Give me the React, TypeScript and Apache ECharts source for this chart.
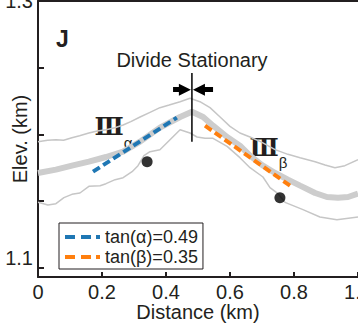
import React, { useEffect, useRef } from "react";
import * as echarts from "echarts";

// Elevation profiles: [distance (km), elevation (km)]
const upperProfile: [number, number][] = [
  [0, 1.1945], [0.03, 1.1955], [0.056, 1.196], [0.08, 1.1955], [0.106, 1.1975], [0.13, 1.199],
  [0.159, 1.201], [0.185, 1.2025], [0.2125, 1.2035], [0.24, 1.205], [0.266, 1.207], [0.29, 1.2095],
  [0.319, 1.213], [0.35, 1.2165], [0.381, 1.22], [0.41, 1.222], [0.444, 1.2245], [0.475, 1.227],
  [0.506, 1.2245], [0.5375, 1.22], [0.569, 1.213], [0.6, 1.206], [0.631, 1.201], [0.6625, 1.198],
  [0.7, 1.194], [0.741, 1.1885], [0.781, 1.185], [0.819, 1.1825], [0.866, 1.1795], [0.897, 1.177],
  [0.928, 1.175], [0.959, 1.1765], [1.0, 1.181],
];
const meanProfile: [number, number][] = [
  [0, 1.171], [0.056, 1.1735], [0.106, 1.1765], [0.159, 1.1795], [0.2125, 1.183], [0.266, 1.187],
  [0.319, 1.1945], [0.381, 1.205], [0.444, 1.213], [0.481, 1.217], [0.516, 1.213], [0.547, 1.2065],
  [0.591, 1.198], [0.631, 1.1915], [0.6625, 1.184], [0.7, 1.177], [0.741, 1.171], [0.781, 1.166],
  [0.819, 1.1615], [0.866, 1.156], [0.903, 1.153], [0.9375, 1.1525], [0.969, 1.153], [1.0, 1.1555],
];
const lowerProfile: [number, number][] = [
  [0, 1.149], [0.031, 1.147], [0.056, 1.148], [0.081, 1.1525], [0.106, 1.155], [0.131, 1.156],
  [0.159, 1.161], [0.194, 1.1615], [0.2125, 1.163], [0.241, 1.166], [0.266, 1.1675], [0.294, 1.172],
  [0.3125, 1.1765], [0.331, 1.184], [0.35, 1.187], [0.381, 1.1885], [0.4125, 1.196], [0.444, 1.2035],
  [0.475, 1.201], [0.497, 1.198], [0.522, 1.197], [0.547, 1.197], [0.569, 1.194], [0.591, 1.191],
  [0.631, 1.1825], [0.6625, 1.175], [0.703, 1.168], [0.725, 1.16], [0.75, 1.1555], [0.772, 1.149],
  [0.828, 1.1435], [0.881, 1.138], [0.934, 1.136], [1.0, 1.138],
];
const alphaFit: [number, number][] = [[0.172, 1.172], [0.434, 1.2125]];
const betaFit: [number, number][] = [[0.522, 1.2065], [0.7875, 1.1615]];
const knickPoints: [number, number][] = [[0.341, 1.1795], [0.756, 1.1525]];
const divideLine: [number, number][] = [[0.481, 1.246], [0.481, 1.1945]];
const arrowY = 1.2335;
const leftArrow: [number, number][] = [[0.422, arrowY], [0.459, arrowY]];
const rightArrow: [number, number][] = [[0.547, arrowY], [0.503, arrowY]];

const legendNames = ["tan(α)=0.49", "tan(β)=0.35"];
const xTicks = [0, 0.2, 0.4, 0.6, 0.8, 1.0];
const yTicks = [1.1, 1.15, 1.2, 1.25, 1.3];
const yLabels = [1.1, 1.3];

const FONT = "'Liberation Sans', Arial, sans-serif";
const INK = "#231f20";
const DASH_ICON = "path://M0,0h10v4h-10z M16,0h10v4h-10z M31,0h4v4h-4z";

export default function App() {
  const ref = useRef<HTMLDivElement>(null);
  useEffect(() => {
    if (!ref.current) return;
    const chart = echarts.init(ref.current, undefined, { renderer: "svg" });
    const axisLine = { show: true, lineStyle: { color: INK, width: 2 } };
    const option: any = {
      animation: false,
      backgroundColor: "#ffffff",
      grid: {
        left: 38, top: 1, width: 320, height: 276, show: false,
        containLabel: false, outerBoundsMode: "none",
      },
      xAxis: [
        {
          type: "value",
          min: xTicks[0],
          max: xTicks[xTicks.length - 1],
          interval: 0.2,
          axisLine,
          axisTick: { show: true, inside: true, length: 5, lineStyle: { color: INK, width: 2 } },
          axisLabel: {
            fontSize: 20, color: INK, fontFamily: FONT, margin: 5, showMaxLabel: true,
            formatter: (v: number) => (v === 0 ? "0" : v.toFixed(1)),
          },
          splitLine: { show: false },
          name: "Distance (km)",
          nameLocation: "middle",
          nameGap: 25,
          nameMoveOverlap: false,
          nameTextStyle: { fontSize: 20, color: INK, fontFamily: FONT },
        },
        {
          type: "value", position: "top", min: 0, max: 1,
          axisLine, axisTick: { show: false }, axisLabel: { show: false }, splitLine: { show: false },
        },
      ],
      yAxis: {
        type: "value",
        min: 1.093,
        max: 1.3,
        axisLine,
        axisTick: { show: true, inside: true, length: 6, customValues: yTicks, lineStyle: { color: INK, width: 2 } },
        axisLabel: {
          customValues: yLabels, fontSize: 20, color: INK, fontFamily: FONT, margin: 5,
          formatter: (v: number) => (v < 1.2 ? "{lo|" + v.toFixed(1) + "}" : v.toFixed(1)),
          rich: { lo: { fontSize: 20, color: INK, fontFamily: FONT, padding: [0, 0, 20, 0] } },
        },
        splitLine: { show: false },
        name: "Elev. (km)",
        nameLocation: "middle",
        nameGap: 8,
        nameMoveOverlap: false,
        nameTextStyle: { fontSize: 20, color: INK, fontFamily: FONT },
      },
      legend: {
        data: legendNames.map((n) => ({ name: n, icon: DASH_ICON })),
        orient: "vertical",
        left: 59,
        top: 223,
        backgroundColor: "#ffffff",
        borderColor: INK,
        borderWidth: 1,
        borderRadius: 0,
        padding: [5, 5, 3, 6],
        itemWidth: 35,
        itemHeight: 4,
        itemGap: 2,
        textStyle: { fontSize: 18, color: INK, fontFamily: FONT, lineHeight: 18 },
      },
      series: [
        { type: "line", data: upperProfile, symbol: "none", silent: true, lineStyle: { color: "#c6c6c6", width: 1.5 }, z: 2 },
        { type: "line", data: lowerProfile, symbol: "none", silent: true, lineStyle: { color: "#c6c6c6", width: 1.5 }, z: 2 },
        { type: "line", data: meanProfile, symbol: "none", silent: true, lineStyle: { color: "#cdcdcd", width: 6 }, z: 3 },
        {
          name: legendNames[0], type: "line", data: alphaFit, symbol: "none", z: 5,
          itemStyle: { color: "#1f77b4" },
          lineStyle: { color: "#1f77b4", width: 4, type: [8, 4] },
        },
        {
          name: legendNames[1], type: "line", data: betaFit, symbol: "none", z: 5,
          itemStyle: { color: "#ff7f0e" },
          lineStyle: { color: "#ff7f0e", width: 4, type: [8, 4] },
        },
        {
          type: "line", data: divideLine, symbol: "none", z: 6, silent: true,
          lineStyle: { color: "#000000", width: 1.5 },
          markLine: {
            silent: true,
            symbol: ["none", "triangle"],
            symbolSize: 12,
            label: { show: false },
            lineStyle: { color: "#000000", width: 5, type: "solid" },
            data: [
              [{ coord: leftArrow[0] }, { coord: leftArrow[1] }],
              [{ coord: rightArrow[0] }, { coord: rightArrow[1] }],
            ],
          },
        },
        {
          type: "scatter", data: knickPoints, symbolSize: 11, z: 7, silent: true,
          itemStyle: { color: "#000000" },
        },
      ],
      graphic: [
        { type: "text", left: 56, top: 27, style: { text: "J", fontSize: 23, fontWeight: "bold", fill: INK, fontFamily: FONT } },
        { type: "text", x: 192, y: 60, style: { text: "Divide Stationary", fontSize: 20, fill: INK, fontFamily: FONT, align: "center", verticalAlign: "middle" } },
        { type: "text", x: 109, y: 126, style: { text: "Ⅲ", fontSize: 24, fontWeight: "bold", fill: INK, fontFamily: "'DejaVu Serif', serif", align: "center", verticalAlign: "middle" } },
        { type: "text", x: 128, y: 142, style: { text: "α", fontSize: 15, fill: INK, fontFamily: FONT, align: "center", verticalAlign: "middle" } },
        { type: "text", x: 264, y: 147, style: { text: "Ⅲ", fontSize: 24, fontWeight: "bold", fill: INK, fontFamily: "'DejaVu Serif', serif", align: "center", verticalAlign: "middle" } },
        { type: "text", x: 283, y: 162, style: { text: "β", fontSize: 15, fill: INK, fontFamily: FONT, align: "center", verticalAlign: "middle" } },
      ],
    };
    chart.setOption(option);
    return () => chart.dispose();
  }, []);
  return <div ref={ref} style={{ position: "fixed", left: 0, top: 0, width: 358, height: 327 }} />;
}
